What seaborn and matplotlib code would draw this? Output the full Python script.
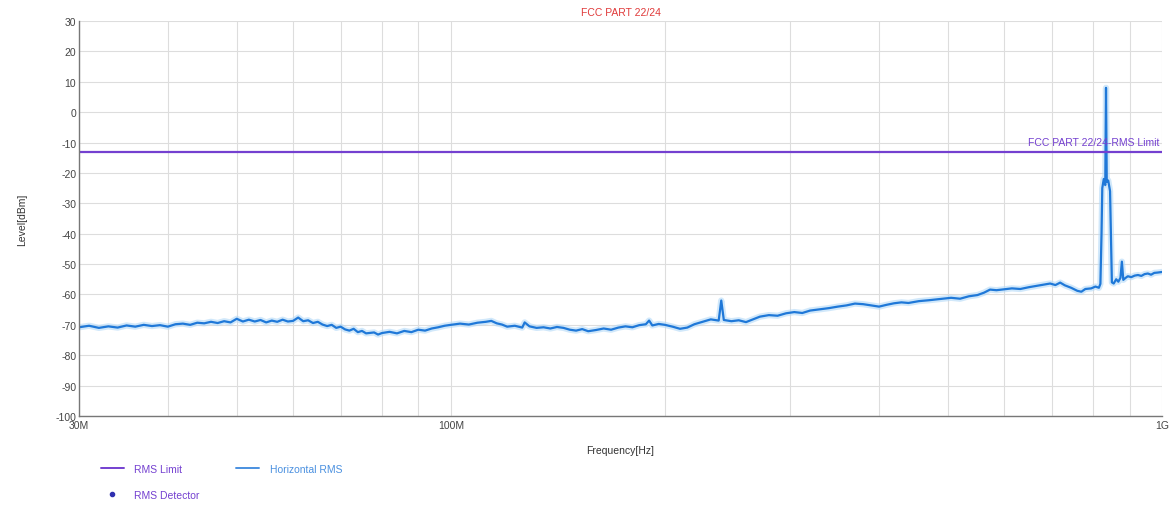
import pandas as pd
import matplotlib
matplotlib.use("Agg")
import matplotlib.pyplot as plt
import matplotlib.ticker as mticker
from matplotlib.lines import Line2D
import seaborn as sns

# Horizontal RMS trace (MHz, dBm)
freq_mhz = [30, 31, 32, 33, 34, 35, 36, 37, 38, 39, 40, 41, 42, 43, 44, 45, 46, 47, 48, 49,
            50, 51, 52, 53, 54, 55, 56, 57, 58, 59, 60, 61, 62, 63, 64, 65, 66, 67, 68, 69,
            70, 71, 72, 73, 74, 75, 76, 78, 79, 80, 82, 84, 86, 88, 90, 92, 94, 96, 98, 100,
            103, 106, 109, 112, 114, 116, 118, 120, 123, 126, 127, 129, 132, 135, 138, 141, 144, 147, 150, 153,
            156, 160, 164, 168, 172, 176, 180, 184, 188, 190, 192, 196, 200, 205, 210, 215, 220, 226, 232, 238,
            240, 242, 248, 254, 260, 266, 272, 280, 288, 296, 304, 312, 320, 330, 340, 350, 360, 370, 380, 390,
            400, 410, 420, 430, 440, 455, 470, 488, 505, 520, 535, 550, 562, 573, 585, 600, 615, 632, 650, 665,
            680, 696, 708, 719, 730, 745, 760, 770, 780, 795, 806, 815, 819, 822, 824, 828, 832, 834, 836, 840,
            845, 848, 850, 855, 862, 868, 874, 878, 882, 888, 895, 905, 915, 925, 935, 945, 955, 965, 975, 985,
            1000]
level_dbm = [-70.8, -70.3, -71.0, -70.5, -70.9, -70.2, -70.6, -70.0, -70.4, -70.1, -70.6, -69.8, -69.6, -70.0, -69.3, -69.5, -69.0, -69.4, -68.8, -69.2,
             -68.0, -68.9, -68.3, -68.9, -68.4, -69.2, -68.6, -69.0, -68.3, -68.9, -68.7, -67.6, -68.8, -68.5, -69.4, -69.0, -69.9, -70.4, -70.0, -71.0,
             -70.6, -71.5, -71.9, -71.3, -72.4, -72.0, -72.8, -72.5, -73.2, -72.7, -72.3, -72.8, -72.0, -72.4, -71.6, -71.9, -71.2, -70.8, -70.3, -70.0,
             -69.6, -69.9, -69.3, -69.0, -68.7, -69.5, -69.9, -70.6, -70.3, -70.9, -69.2, -70.5, -71.0, -70.8, -71.2, -70.7, -71.0, -71.6, -71.9, -71.4,
             -72.1, -71.7, -71.2, -71.6, -70.9, -70.5, -70.8, -70.1, -69.8, -68.6, -70.2, -69.7, -70.0, -70.6, -71.3, -70.9, -69.8, -69.0, -68.2, -68.6,
             -62.0, -68.4, -68.8, -68.5, -69.1, -68.2, -67.3, -66.8, -67.0, -66.2, -65.8, -66.1, -65.3, -64.9, -64.5, -64.0, -63.6, -63.0, -63.2, -63.6,
             -64.0, -63.4, -62.9, -62.6, -62.8, -62.2, -61.9, -61.5, -61.1, -61.4, -60.6, -60.2, -59.4, -58.4, -58.6, -58.3, -58.0, -58.2, -57.6, -57.2,
             -56.8, -56.4, -56.9, -56.1, -57.0, -57.8, -58.8, -59.1, -58.2, -58.0, -57.4, -57.8, -56.5, -40.0, -25.0, -22.0, -24.0, 8.0, -23.0, -22.5,
             -26.0, -45.0, -56.0, -56.4, -55.0, -55.8, -54.5, -49.2, -55.2, -54.6, -54.0, -54.3, -53.8, -53.6, -53.9, -53.3, -53.1, -53.5, -52.9, -52.8,
             -52.6]

limit_freq_mhz = [30, 1000]
limit_dbm = [-13, -13]

y_ticks = list(range(-100, 31, 10))
x_major = [30, 100, 1000]
x_major_labels = ["30M", "100M", "1G"]
x_minor = [40, 50, 60, 70, 80, 90, 200, 300, 400, 500, 600, 700, 800, 900]

trace = pd.DataFrame({"freq": freq_mhz, "level": level_dbm})
limit = pd.DataFrame({"freq": limit_freq_mhz, "level": limit_dbm})

sns.set_style("white")
plt.rcParams["font.family"] = ["Liberation Sans", "DejaVu Sans"]
plt.rcParams["axes.unicode_minus"] = False

purple = "#7440d0"
blue = "#1f78d8"

fig = plt.figure(figsize=(11.75, 5.06), dpi=100)
ax = fig.add_axes([0.0672, 0.1759, 0.9218, 0.7806])

# halo + main trace
sns.lineplot(data=trace, x="freq", y="level", ax=ax, color="#b3d9f8", linewidth=4.5, alpha=0.6)
sns.lineplot(data=trace, x="freq", y="level", ax=ax, color=blue, linewidth=1.6)
sns.lineplot(data=limit, x="freq", y="level", ax=ax, color=purple, linewidth=1.6)

ax.set_xscale("log")
ax.set_xlim(30, 1000)
ax.set_ylim(-100, 30)
ax.set_yticks(y_ticks)
ax.set_xticks(x_major)
ax.set_xticklabels(x_major_labels)
ax.xaxis.set_minor_locator(mticker.FixedLocator(x_minor))
ax.xaxis.set_minor_formatter(mticker.NullFormatter())

ax.grid(True, which="both", color="#dddddd", linewidth=0.8)
ax.set_axisbelow(True)
for s in ["top", "right"]:
    ax.spines[s].set_visible(False)
for s in ["left", "bottom"]:
    ax.spines[s].set_color("#777777")
    ax.spines[s].set_linewidth(1.0)

ax.tick_params(axis="x", which="both", direction="in", length=3, color="#777777",
               labelsize=7.5, labelcolor="#444444", pad=3)
ax.tick_params(axis="y", length=0, labelsize=7.5, labelcolor="#444444", pad=2)

ax.set_xlabel("Frequency[Hz]", fontsize=7.5, color="#333333", labelpad=11)
ax.set_ylabel("Level[dBm]", fontsize=7.5, color="#333333", labelpad=20)
ax.set_title("FCC PART 22/24", fontsize=7.5, color="#e03a3a", pad=4)

ax.annotate("FCC PART 22/24-RMS Limit", xy=(limit_freq_mhz[-1], limit_dbm[-1]),
            xytext=(-2, 3), textcoords="offset points", ha="right", va="bottom",
            fontsize=7.5, color=purple)

handles = [Line2D([0], [0], color=purple, linewidth=1.4),
           Line2D([0], [0], color="none", marker="o", markersize=3,
                  markerfacecolor="#3030b0", markeredgecolor="#3030b0"),
           Line2D([0], [0], color="#4a90e0", linewidth=1.4)]
labels = ["RMS Limit", "RMS Detector", "Horizontal RMS"]
leg = fig.legend(handles, labels, ncol=2, loc="lower left", bbox_to_anchor=(0.078, -0.008),
                 frameon=False, fontsize=7.5, handlelength=2.2, columnspacing=3.5,
                 labelspacing=1.5, handletextpad=1.0)
for txt, c in zip(leg.get_texts(), [purple, purple, "#4a90e0"]):
    txt.set_color(c)

fig.savefig("out.png", dpi=100)
